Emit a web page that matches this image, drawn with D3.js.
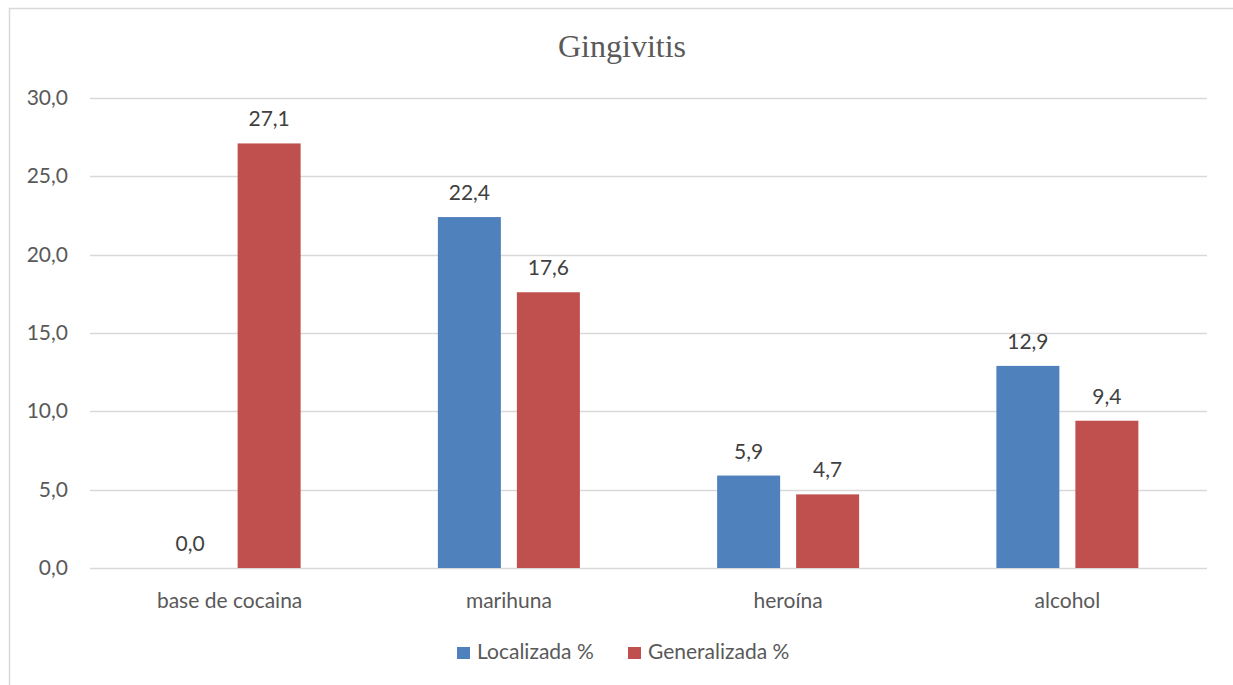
<!DOCTYPE html>
<html><head><meta charset="utf-8">
<script src="https://cdn.jsdelivr.net/npm/d3@7"></script>
<style>body{margin:0;background:#fff}svg{display:block}</style>
</head><body>
<svg id="c" width="1233" height="685"></svg>
<script>
const categories = ["base de cocaina","marihuna","heroína","alcohol"];
const seriesNames = ["Localizada %","Generalizada %"];
const localizada = [0.0,22.4,5.9,12.9];
const generalizada = [27.1,17.6,4.7,9.4];
const yTicks = [0,5,10,15,20,25,30];
const colors = ["#4F81BD","#C0504D"];

(function(){
const svg = d3.select("#c");
const fmt = v => d3.format(".1f")(v).replace(".", ",");
const font = "Lato, 'Noto Sans', sans-serif";
const fs = 21;

// outer border
svg.append("rect").attr("x",9.5).attr("y",8.5).attr("width",1240).attr("height",700)
  .attr("fill","none").attr("stroke","#d9d9d9").attr("stroke-width",1.5);

const pLeft=90, pRight=1207, pTop=98, pBottom=568;
const x = d3.scaleBand().domain(categories).range([pLeft,pRight]);
const y = d3.scaleLinear().domain([0,30]).range([pBottom,pTop]);

// gridlines
svg.append("g").selectAll("line").data(yTicks).join("line")
  .attr("x1",pLeft).attr("x2",pRight)
  .attr("y1",d=>Math.round(y(d))+0.5).attr("y2",d=>Math.round(y(d))+0.5)
  .attr("stroke","#d9d9d9").attr("stroke-width",1.3);

// y labels
svg.append("g").selectAll("text").data(yTicks).join("text")
  .attr("x",68).attr("y",d=>y(d)+7).attr("text-anchor","end")
  .attr("font-family",font).attr("font-size",fs).attr("fill","#595959")
  .text(fmt);

// x labels
svg.append("g").selectAll("text").data(categories).join("text")
  .attr("x",d=>x(d)+x.bandwidth()/2).attr("y",608).attr("text-anchor","middle")
  .attr("font-family",font).attr("font-size",fs).attr("fill","#595959")
  .text(d=>d);

const barW = 63, gap = 16;
const series = [localizada, generalizada];
series.forEach((vals,si)=>{
  const g = svg.append("g");
  const bx = d => x(d)+x.bandwidth()/2 + (si===0 ? -gap/2-barW : gap/2);
  g.selectAll("rect").data(categories).join("rect")
    .attr("x",bx).attr("width",barW)
    .attr("y",(d,i)=>y(vals[i])).attr("height",(d,i)=>y(0)-y(vals[i]))
    .attr("fill",colors[si]);
  g.selectAll("text").data(categories).join("text")
    .attr("x",d=>bx(d)+barW/2).attr("y",(d,i)=>y(vals[i])-17)
    .attr("text-anchor","middle").attr("font-family",font).attr("font-size",fs)
    .attr("fill","#404040").text((d,i)=>fmt(vals[i]));
});

// title
svg.append("text").attr("x",622).attr("y",57).attr("text-anchor","middle")
  .attr("font-family","'Liberation Serif','Times New Roman',serif").attr("font-size",32)
  .attr("fill","#595959").text("Gingivitis");

// legend
const legX = [457, 628];
seriesNames.forEach((n,i)=>{
  svg.append("rect").attr("x",legX[i]).attr("y",647).attr("width",13).attr("height",12).attr("fill",colors[i]);
  svg.append("text").attr("x",legX[i]+20).attr("y",659).attr("font-family",font).attr("font-size",fs)
    .attr("fill","#595959").text(n);
});
})();
</script>
</body></html>
